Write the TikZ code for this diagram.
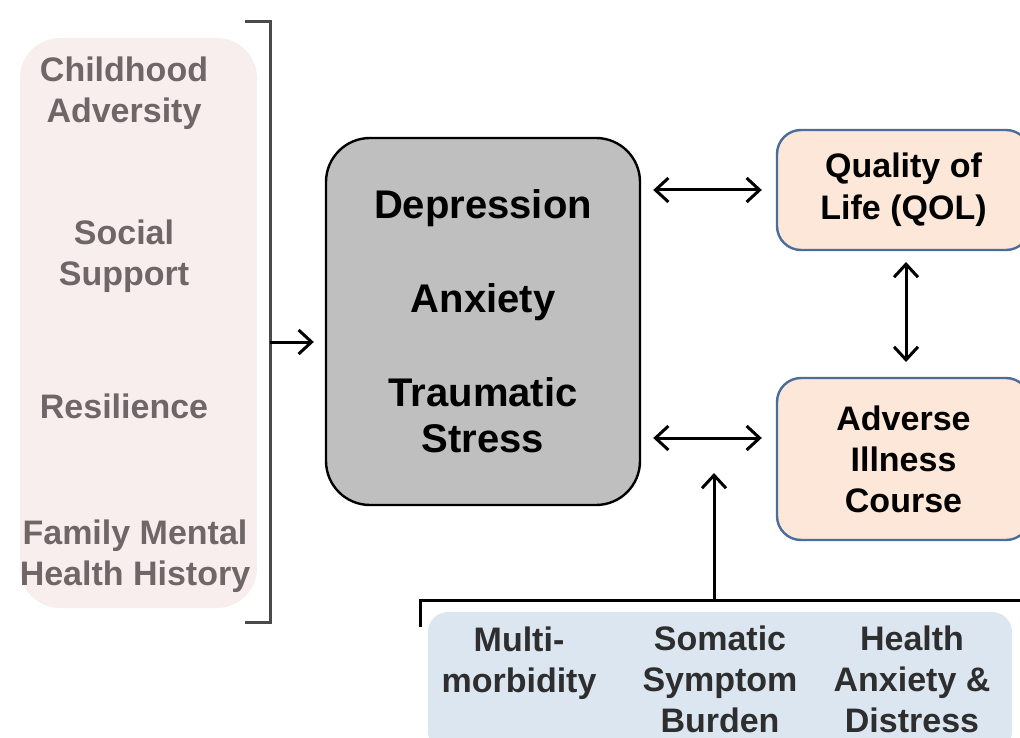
\documentclass[tikz,border=0pt]{standalone}
\usepackage{fontspec}
\setmainfont{Liberation Sans}
\usetikzlibrary{arrows.meta,positioning}
\definecolor{pinkbg}{HTML}{F8EEEE}
\definecolor{riskgray}{HTML}{6F6767}
\definecolor{corefill}{HTML}{BFBFBF}
\definecolor{peach}{HTML}{FCE7D8}
\definecolor{outcomeline}{HTML}{4C6C9A}
\definecolor{bluebg}{HTML}{DCE6F1}
\definecolor{medtext}{HTML}{2E2E2E}
\definecolor{bracketgray}{HTML}{4A4A4A}

\tikzset{
  riskbox/.style={rectangle, rounded corners=20pt, fill=pinkbg, inner sep=0pt},
  risktext/.style={align=center, text=riskgray, font=\fontsize{17}{20.5}\selectfont\bfseries},
  corebox/.style={rectangle, rounded corners=22pt, fill=corefill, draw=black, line width=1.2pt,
    align=center, inner sep=0pt, font=\fontsize{20}{23}\selectfont\bfseries},
  outbox/.style={rectangle, rounded corners=12pt, fill=peach, draw=outcomeline, line width=1.2pt,
    align=center, inner sep=0pt, font=\fontsize{17}{21}\selectfont\bfseries},
  medbox/.style={rectangle, rounded corners=10pt, fill=bluebg, inner sep=0pt},
  medtextstyle/.style={align=center, text=medtext, font=\fontsize{17}{20.5}\selectfont\bfseries},
  bracket/.style={draw=bracketgray, line width=1.5pt},
  arr/.style={line width=1.5pt, -{Straight Barb[length=6.5pt,width=12pt,line width=1.5pt]}},
  dbl/.style={line width=1.5pt, {Straight Barb[length=6.5pt,width=12pt,line width=1.5pt]}-{Straight Barb[length=6.5pt,width=12pt,line width=1.5pt]}},
}

\begin{document}
\begin{tikzpicture}[x=0.5pt,y=-0.5pt]
\clip (0,0) rectangle (1020,737);

% risk factors
\node[riskbox, minimum width=118.5pt, minimum height=285pt] (risk) at (138.5,323) {};
\node[risktext] (child) at (124,93) {Childhood\\Adversity};
\node[risktext] (social) at (124,256) {Social\\Support};
\node[risktext] (resil) at (124,406) {Resilience};
\node[risktext] (family) at (135,556) {Family Mental\\Health History};

\coordinate (btop) at (270,22);
\coordinate (bbot) at (270,622);
\coordinate (bmid) at (270,342);
\draw[bracket] (245,22) -- (btop) -- (bbot) -- (245,622);

% psychological factors
\node[corebox, minimum width=157pt, minimum height=183.5pt] (core) at (483,321.5)
  {Depression\\[24pt]Anxiety\\[24pt]Traumatic\\Stress};
\draw[arr, shorten >=5.5pt] (bmid) -- (bmid -| core.west);

% outcomes
\node[outbox, minimum width=126.5pt, minimum height=60pt] (qol) at (903.5,190)
  {Quality of\\Life (QOL)};
\node[outbox, minimum width=126.5pt, minimum height=81pt, font=\fontsize{17}{20.5}\selectfont\bfseries] (course) at (903.5,459)
  {Adverse\\Illness\\Course};

\coordinate (lowarr) at (708,438);
\draw[dbl, shorten <=6pt, shorten >=7pt] (qol.west -| core.east) -- (qol.west);
\draw[dbl, shorten <=6pt, shorten >=7pt] (lowarr -| core.east) -- (lowarr -| course.west);
\draw[dbl, shorten <=6pt, shorten >=8pt] (906,250) -- (906,378);

% medical factors
\node[medbox, minimum width=292pt, minimum height=70pt] (med) at (720,682) {};
\node[medtextstyle] (multi) at (519,663) {Multi-\\morbidity};
\node[medtextstyle] (somatic) at (720,679) {Somatic\\Symptom\\Burden};
\node[medtextstyle] (health) at (912,679) {Health\\Anxiety \&\\Distress};

\coordinate (joint) at (714,600);
\coordinate (upend) at (714,473);
\draw[bracket, draw=black] (420,627) -- (420,600) -- (joint) -- (1030,600);
\draw[arr] (joint) -- (upend);
\end{tikzpicture}
\end{document}
